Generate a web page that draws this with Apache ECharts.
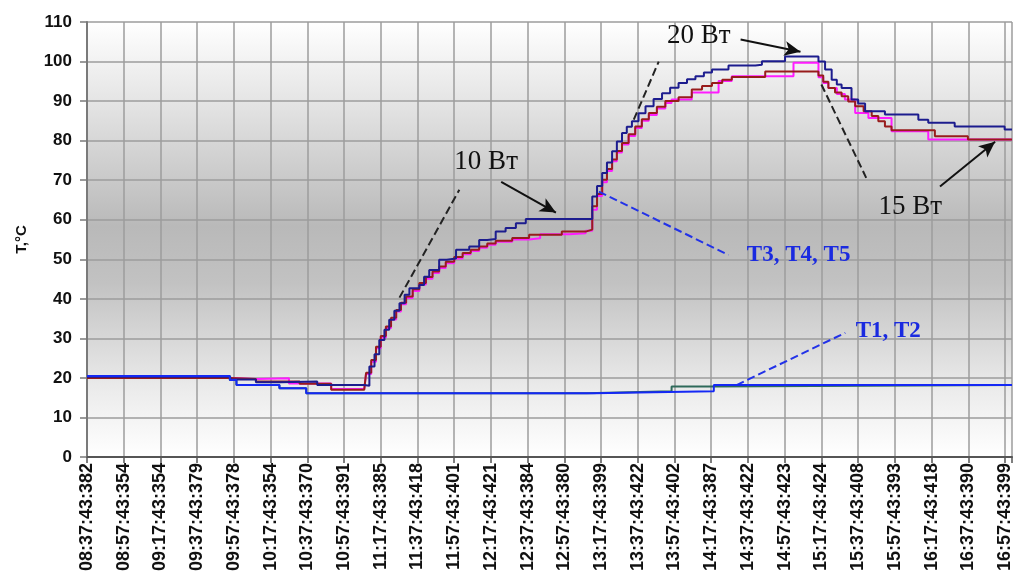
<!DOCTYPE html>
<html><head><meta charset="utf-8">
<script src="https://cdn.jsdelivr.net/npm/echarts@6/dist/echarts.min.js"></script>
<style>html,body{margin:0;padding:0;background:#fff}#c{width:1014px;height:575px}</style>
</head><body><div id="c"></div>
<script>
const tickLabels = ['08:37:43:382','08:57:43:354','09:17:43:354','09:37:43:379','09:57:43:378','10:17:43:354','10:37:43:370','10:57:43:391','11:17:43:385','11:37:43:418','11:57:43:401','12:17:43:421','12:37:43:384','12:57:43:380','13:17:43:399','13:37:43:422','13:57:43:402','14:17:43:387','14:37:43:422','14:57:43:423','15:17:43:424','15:37:43:408','15:57:43:393','16:17:43:418','16:37:43:390','16:57:43:399'];
const yTicks = [0,10,20,30,40,50,60,70,80,90,100,110];
const xEnd = 25.19;

// [position in tick-label units, temperature]
const t1 = [[0,20.5],[3.89,19.5],[4.07,18.2],[5.24,17.4],[5.97,16.1],[13.8,16.6],[17.07,18.2],[xEnd,18.2]];
const t2 = [[0,20.5],[3.89,19.5],[4.07,18.2],[5.24,17.4],[5.97,16.1],[13.61,16.6],[15.92,17.8],[17.07,18.2],[xEnd,18.2]];
const t3 = [[0,20.3],[3.9,19.6],[4.6,18.9],[5.25,19.1],[6.27,18.2],[7.55,18],[7.69,22.9],[7.83,26],[7.96,29.6],[8.1,32.2],[8.23,34.7],[8.37,37],[8.51,38.9],[8.65,41],[8.78,42.7],[9.05,43.5],[9.18,45.6],[9.32,47.3],[9.59,49.9],[9.8,50.2],[10.05,52.4],[10.41,53.2],[10.68,54.9],[10.9,55.1],[11.13,57],[11.4,57.9],[11.68,59.1],[11.95,60.2],[13.67,60.2],[13.76,65.9],[13.89,68.5],[14.03,71.8],[14.16,74.5],[14.3,77.3],[14.43,79.8],[14.57,81.9],[14.7,83.5],[14.84,84.9],[15.02,86.9],[15.21,88.7],[15.43,90.5],[15.66,92],[15.88,93.4],[16.11,94.6],[16.34,95.5],[16.57,96.3],[16.8,97.2],[17.02,98],[17.47,99],[18.2,99.2],[18.38,100.1],[19.01,101.3],[19.74,101.3],[19.92,100],[20.1,98],[20.28,95.4],[20.42,94.2],[20.55,93.3],[20.82,90.4],[21.0,89.4],[21.19,87.4],[21.73,86.6],[22.64,85.3],[22.91,84.5],[23.63,83.6],[24.99,82.8],[xEnd,82.8]];
const t4 = [[0,20],[3.9,19.7],[4.6,19.1],[5.79,18.5],[6.65,17],[7.55,17],[7.6,21.3],[7.74,24.5],[7.87,27.9],[8.0,30.6],[8.14,33],[8.28,35.2],[8.42,37.2],[8.55,39],[8.69,40.6],[8.87,42.4],[9.05,44],[9.23,45.5],[9.41,46.9],[9.59,48.2],[9.77,49.4],[10.0,50.6],[10.23,51.6],[10.45,52.4],[10.68,53.2],[10.9,54],[11.13,54.7],[11.58,55.4],[12.04,56.2],[12.93,57],[13.58,57.5],[13.76,63.4],[13.89,66.5],[14.03,70.1],[14.16,72.8],[14.3,75.2],[14.43,77.4],[14.57,79.4],[14.75,81.6],[14.93,83.6],[15.11,85.4],[15.3,87],[15.52,88.6],[15.75,90],[16.11,91],[16.47,92.9],[16.75,93.8],[17.02,94.6],[17.3,95.4],[17.56,96.1],[18.47,97.5],[19.74,97.5],[19.92,96.5],[20.05,94.9],[20.19,93.3],[20.37,92.2],[20.55,91.2],[20.73,89.9],[20.92,88.7],[21.15,87.4],[21.37,86.2],[21.55,84.9],[21.73,83.6],[21.91,82.6],[23.09,81.1],[23.99,80.3],[xEnd,80.3]];
const t5 = [[0,20],[3.9,19.7],[4.6,19.9],[5.5,18.6],[6.65,17.2],[7.55,17.2],[7.6,21],[7.74,24.1],[7.87,27.5],[8.0,30.2],[8.14,32.6],[8.28,34.8],[8.42,36.8],[8.55,38.6],[8.69,40.2],[8.87,42],[9.05,43.6],[9.23,45.1],[9.41,46.5],[9.59,47.8],[9.77,49],[10.0,50.2],[10.23,51.3],[10.45,52.1],[10.68,52.9],[10.9,53.7],[11.13,54.4],[11.58,55],[12.04,55.3],[12.34,56.3],[13.13,56.6],[13.58,57.2],[13.76,62.5],[13.89,66],[14.03,69.5],[14.16,72.3],[14.3,74.8],[14.43,77],[14.57,79],[14.75,81.2],[14.93,83.2],[15.11,85],[15.3,86.5],[15.52,88.1],[15.75,89.5],[15.92,90.4],[16.47,92.2],[17.2,95.1],[17.56,96.3],[19.24,99.7],[19.78,99.7],[19.92,96],[20.05,94.6],[20.19,93.3],[20.42,91.8],[20.64,90.4],[20.92,87],[21.28,85.7],[21.91,82.4],[22.91,80.3],[xEnd,80.3]];

const serif = '"Liberation Serif","DejaVu Serif",serif';
const sans = '"Liberation Sans",Arial,sans-serif';

const chart = echarts.init(document.getElementById('c'), null, {renderer:'canvas'});

function ln(a, b, color, type, arrow) {
  return [
    {coord:a, symbol:'none', lineStyle:{color:color, width:2, type:type}},
    {coord:b, symbol: arrow ? 'arrow' : 'none', symbolSize: arrow ? [11,16] : 0}
  ];
}
function txt(pos, text, color, size, bold) {
  return {coord:pos, value:text, symbol:'circle', symbolSize:1, itemStyle:{color:'rgba(0,0,0,0)'},
    label:{show:true, position:'inside', formatter:text, color:color, fontSize:size, fontFamily:serif, fontWeight: bold ? 'bold' : 'normal'}};
}

const stepSeries = (name, data, color, z) => ({
  name, type:'line', step:'end', data, symbol:'none', z:z,
  lineStyle:{color, width:2}, itemStyle:{color}
});

chart.setOption({
  animation:false,
  grid:{left:87, top:22, right:0, bottom:118, show:true, borderWidth:0,
    backgroundColor:{type:'linear', x:0, y:0, x2:0, y2:1, colorStops:[
      {offset:0, color:'#ffffff'},{offset:0.2, color:'#e2e2e2'},{offset:0.47, color:'#b9b9b9'},
      {offset:0.6, color:'#c2c2c2'},{offset:0.85, color:'#ececec'},{offset:1, color:'#ffffff'}]}},
  xAxis:{type:'value', min:0, max:xEnd, interval:1,
    axisLine:{show:true, lineStyle:{color:'#555', width:2}},
    axisTick:{show:true, length:6, lineStyle:{color:'#555', width:1.5}},
    splitLine:{show:true, lineStyle:{color:'#9c9c9c', width:1.5}},
    axisLabel:{rotate:90, margin:6, fontSize:18, fontWeight:'bold', fontFamily:sans, color:'#111',
      formatter:v => Number.isInteger(v) && tickLabels[v] !== undefined ? tickLabels[v] : ''}},
  yAxis:{type:'value', min:yTicks[0], max:yTicks[yTicks.length-1], interval:10,
    name:'T,°C', nameLocation:'middle', nameRotate:90, nameGap:58,
    nameTextStyle:{fontSize:15, fontWeight:'bold', fontFamily:sans, color:'#111'},
    axisLine:{show:true, lineStyle:{color:'#7a7a7a', width:2}},
    axisTick:{show:true, length:7, lineStyle:{color:'#7a7a7a', width:1.5}},
    splitLine:{show:true, lineStyle:{color:'#9c9c9c', width:1.5}},
    axisLabel:{margin:15, fontSize:17, fontWeight:'bold', fontFamily:sans, color:'#111'}},
  series:[
    stepSeries('T5', t5, '#ff1cff', 2),
    stepSeries('T4', t4, '#981c1c', 3),
    stepSeries('T3', t3, '#1c1c8e', 4),
    stepSeries('T2', t2, '#2f6a5a', 5),
    stepSeries('T1', t1, '#1428f5', 6),
    {type:'line', data:[], z:10,
      markLine:{silent:true, symbol:['none','none'], label:{show:false}, animation:false,
        data:[
          ln([8.51,40.3],[10.14,67.6],'#222','dashed',false),
          ln([14.89,85.3],[15.57,100],'#222','dashed',false),
          ln([20.0,94.2],[21.22,70.6],'#222','dashed',false),
          ln([13.94,67.1],[17.47,51.1],'#2232e8','dashed',false),
          ln([17.69,18.2],[20.65,31.4],'#2232e8','dashed',false),
          ln([11.28,69.6],[12.77,61.8],'#111','solid',true),
          ln([17.8,105.6],[19.43,102.5],'#111','solid',true),
          ln([23.23,68.4],[24.73,79.7],'#111','solid',true)
        ]},
      markPoint:{silent:true, animation:false, data:[
        txt([10.87,74.7],'10 Вт','#111',27,false),
        txt([16.66,106.6],'20 Вт','#111',27,false),
        txt([22.42,63.3],'15 Вт','#111',27,false),
        txt([19.38,51.1],'T3, T4, T5','#1a2ae0',23,true),
        txt([21.82,31.9],'T1, T2','#1a2ae0',23,true)
      ]}}
  ]
});
</script></body></html>
